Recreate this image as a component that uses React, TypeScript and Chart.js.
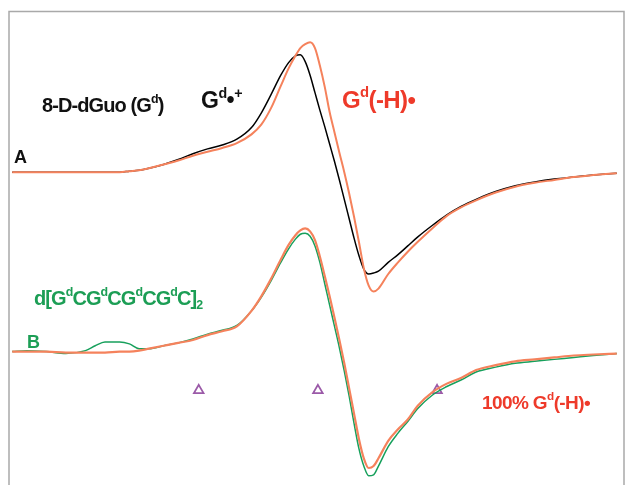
import React, { useEffect, useRef } from "react";
import { Chart, registerables } from "chart.js";

Chart.register(...registerables);

// Relative magnetic field positions (arbitrary units)
const fields = [5, 20, 40, 60, 80, 90, 100, 115, 125, 135, 145, 160, 175, 190, 205, 220, 235, 250, 260, 270, 280, 288, 295, 300, 305, 310, 315, 320, 325, 330, 335, 340, 345, 350, 355, 360, 365, 370, 375, 380, 390, 400, 410, 420, 435, 450, 465, 480, 500, 520, 540, 560, 580, 600, 624];

// Spectrum A: 8-D-dGuo, black = Gd•+, orange = Gd(-H)•
const blackA = [0, 0, 0, 0, 0, 0, 0, 0, 1, 2, 4, 8, 13, 19, 24, 28, 34, 46, 61, 80, 100, 113, 120, 121, 114, 100, 82, 64, 47, 29, 11, -8, -28, -48, -68, -86, -100, -105, -104, -102, -93, -85, -76, -67, -55, -44, -35, -28, -20, -14, -10, -7, -5, -3, -1];
const orangeA = [0, 0, 0, 0, 0, 0, 0, 0, 1, 2, 4, 8, 12, 17, 21, 25, 30, 39, 49, 66, 89, 107, 120, 128, 132, 134, 128, 110, 88, 62, 41, 20, 0, -22, -46, -72, -99, -117, -123, -120, -105, -93, -82, -72, -58, -45, -36, -29, -21, -15, -11, -8, -5, -3, -1];

// Spectrum B: d[GdCGdCGdCGdC]2 (green) vs 100% Gd(-H)• (orange)
const orangeB = [0, 0, 0, -1, -1, -1, -1, 0, 0, 1, 3, 6, 9, 12, 17, 21, 26, 42, 57, 75, 95, 110, 120, 125, 127, 124, 115, 98, 78, 57, 35, 12, -12, -38, -64, -90, -110, -120, -118, -110, -92, -80, -70, -56, -42, -33, -27, -19, -14, -10, -8, -6, -4, -3, -2];
const greenB = [0, 1, 0, -2, 1, 6, 10, 10, 8, 3, 3, 6, 9, 13, 18, 22, 27, 42, 56, 73, 92, 106, 116, 121, 122, 119, 109, 92, 70, 48, 26, 4, -20, -46, -74, -100, -118, -128, -127, -118, -98, -84, -72, -59, -45, -36, -29, -21, -16, -12, -10, -8, -6, -4, -2];

// Field markers (triangles)
const markerFields = [196, 318, 440];

// Vertical stacking offsets of the two spectra
const offsetA = 315;
const offsetB = 130;
const markerLevel = 90;

const FONT = '"Liberation Sans", Arial, sans-serif';

type Run = [string, "n" | "sup" | "sub"];

function drawRich(ctx: CanvasRenderingContext2D, x: number, y: number, runs: Run[], size: number, color: string, spacing: number) {
  let cx = x;
  ctx.fillStyle = color;
  ctx.textBaseline = "alphabetic";
  ctx.textAlign = "left";
  (ctx as any).letterSpacing = spacing + "px";
  for (const [t, kind] of runs) {
    let fs = size;
    let dy = 0;
    if (kind === "sup") { fs = size * 0.62; dy = -size * 0.45; }
    if (kind === "sub") { fs = size * 0.62; dy = size * 0.22; }
    ctx.font = `bold ${fs}px ${FONT}`;
    ctx.fillText(t, cx, y + dy);
    cx += ctx.measureText(t).width;
  }
  (ctx as any).letterSpacing = "0px";
}

const decorPlugin = {
  id: "decor",
  beforeDatasetsDraw(chart: any) {
    const ctx = chart.ctx as CanvasRenderingContext2D;
    const { width, height } = chart;
    ctx.save();
    ctx.strokeStyle = "#a9a9a9";
    ctx.lineWidth = 1.5;
    ctx.beginPath();
    ctx.moveTo(9, height);
    ctx.lineTo(9, 11.5);
    ctx.lineTo(width - 4, 11.5);
    ctx.lineTo(width - 4, height);
    ctx.stroke();
    ctx.restore();
  },
  afterDraw(chart: any) {
    const ctx = chart.ctx as CanvasRenderingContext2D;
    ctx.save();
    const red = "#ee3a2a";
    const green = "#1c9e55";
    drawRich(ctx, 42, 112, [["8-D-dGuo (G", "n"], ["d", "sup"], [")", "n"]], 20, "#111", -0.9);
    drawRich(ctx, 14, 163, [["A", "n"]], 18, "#111", 0);
    drawRich(ctx, 201, 108, [["G", "n"], ["d", "sup"], ["\u2022", "n"], ["+", "sup"]], 23, "#111", -0.5);
    drawRich(ctx, 342, 108, [["G", "n"], ["d", "sup"], ["(-H)\u2022", "n"]], 24, red, -0.6);
    drawRich(ctx, 34, 305, [["d[G", "n"], ["d", "sup"], ["CG", "n"], ["d", "sup"], ["CG", "n"], ["d", "sup"], ["CG", "n"], ["d", "sup"], ["C]", "n"], ["2", "sub"]], 20, green, -0.9);
    drawRich(ctx, 27, 348, [["B", "n"]], 18, green, 0);
    drawRich(ctx, 482, 409, [["100% G", "n"], ["d", "sup"], ["(-H)\u2022", "n"]], 19, red, -0.6);
    ctx.restore();
  },
};

function series(ys: number[], offset: number) {
  return fields.map((x, i) => ({ x, y: offset + ys[i] }));
}

export default function App() {
  const ref = useRef<HTMLCanvasElement | null>(null);
  useEffect(() => {
    if (!ref.current) return;
    const orange = "#f5825c";
    const chart = new Chart(ref.current, {
      type: "line",
      data: {
        datasets: [
          { data: series(orangeA, offsetA), borderColor: orange, borderWidth: 2, pointRadius: 0, cubicInterpolationMode: "monotone" },
          { data: series(blackA, offsetA), borderColor: "#000", borderWidth: 1.5, pointRadius: 0, cubicInterpolationMode: "monotone" },
          { data: series(orangeB, offsetB), borderColor: orange, borderWidth: 2.2, pointRadius: 0, cubicInterpolationMode: "monotone" },
          { data: series(greenB, offsetB), borderColor: "#17a05c", borderWidth: 1.5, pointRadius: 0, cubicInterpolationMode: "monotone" },
          {
            data: markerFields.map((x) => ({ x, y: markerLevel })),
            showLine: false,
            pointStyle: "triangle",
            pointRadius: 5.5,
            pointBorderColor: "#9b5aa8",
            pointBackgroundColor: "rgba(0,0,0,0)",
            pointBorderWidth: 1.8,
          },
        ],
      } as any,
      options: {
        animation: false,
        responsive: false,
        maintainAspectRatio: false,
        layout: { padding: 0 },
        plugins: { legend: { display: false }, tooltip: { enabled: false } },
        scales: {
          x: { type: "linear", min: 0, max: 628, display: false },
          y: { type: "linear", min: 0, max: 485, display: false },
        },
      },
      plugins: [decorPlugin],
    });
    return () => chart.destroy();
  }, []);
  return (
    <div style={{ position: "fixed", left: 0, top: 0, width: 628, height: 485, background: "#fff" }}>
      <canvas ref={ref} width={628} height={485} style={{ display: "block" }} />
    </div>
  );
}
